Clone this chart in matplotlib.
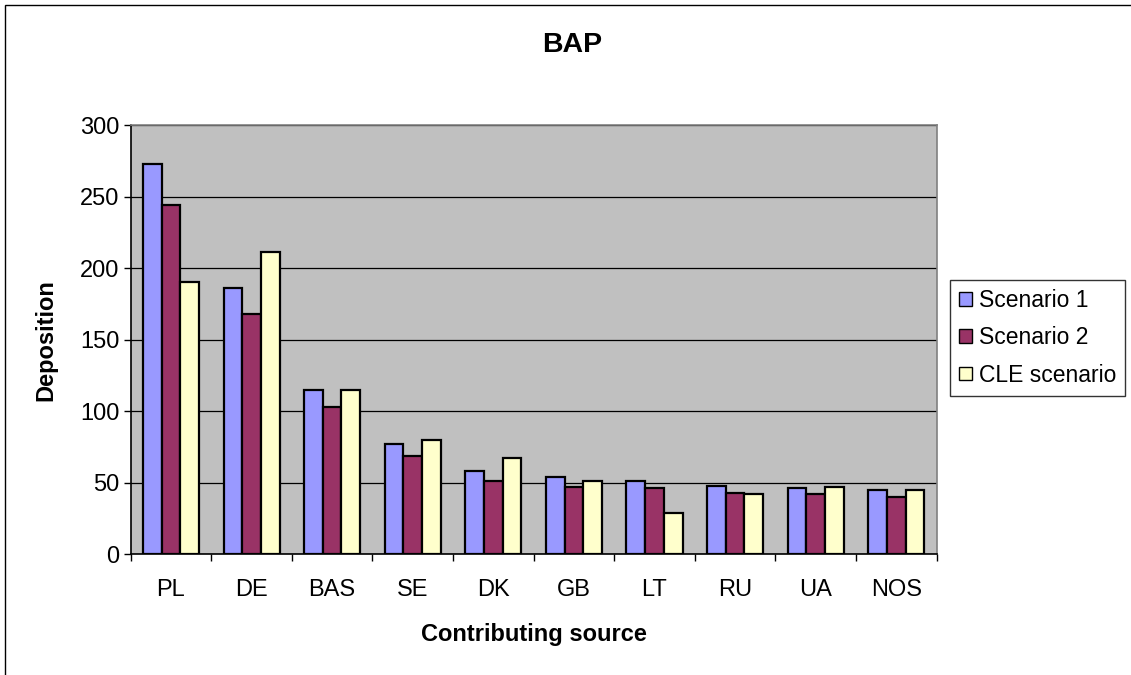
import matplotlib
matplotlib.use("Agg")
import matplotlib.pyplot as plt
import numpy as np
from matplotlib.patches import Patch, Rectangle
from matplotlib.ticker import FixedLocator, NullFormatter

plt.rcParams['font.family'] = ['Liberation Sans', 'DejaVu Sans']

categories = ["PL", "DE", "BAS", "SE", "DK", "GB", "LT", "RU", "UA", "NOS"]
scenario_1 = [273, 186, 115, 77, 58, 54, 51, 48, 46, 45]
scenario_2 = [244, 168, 103, 69, 51, 47, 46, 43, 42, 40]
cle_scenario = [190, 211, 115, 80, 67, 51, 29, 42, 47, 45]

series_names = ["Scenario 1", "Scenario 2", "CLE scenario"]
series_colors = ["#9999FF", "#993366", "#FFFFCC"]

W, H = 1131, 675
fig = plt.figure(figsize=(W / 100, H / 100), dpi=100)
fig.patch.set_facecolor("white")

# outer chart frame
fig.add_artist(Rectangle((5 / W, -0.05), 1.2, (H - 5) / H + 0.05, transform=fig.transFigure,
                         fill=False, edgecolor="black", linewidth=1.0))

ax = fig.add_axes([130.7 / W, (H - 554.3) / H, (936.5 - 130.7) / W, (554.3 - 125) / H])
ax.set_facecolor("#C0C0C0")

x = np.arange(len(categories))
bw = 0.232
for i, (vals, col, name) in enumerate(zip([scenario_1, scenario_2, cle_scenario], series_colors, series_names)):
    ax.bar(x + (i - 1) * bw, vals, width=bw, color=col, edgecolor="black", linewidth=1.6,
           label=name, zorder=3)

ax.set_xlim(-0.5, len(categories) - 0.5)
ax.set_ylim(0, 300)
ax.set_yticks(np.arange(0, 301, 50))
ax.yaxis.grid(True, color="black", linewidth=0.9, zorder=1)
ax.set_axisbelow(True)

ax.set_xticks(x)
ax.set_xticklabels(categories)
ax.xaxis.set_minor_locator(FixedLocator(np.arange(-0.5, len(categories), 1.0)))
ax.xaxis.set_minor_formatter(NullFormatter())
ax.tick_params(axis="x", which="major", length=0, pad=18, labelsize=17)
ax.tick_params(axis="x", which="minor", length=5, width=1, direction="out")
ax.tick_params(axis="y", length=5, width=1, direction="out", pad=3, labelsize=17)

for s in ["top", "right"]:
    ax.spines[s].set_color("#808080")
    ax.spines[s].set_linewidth(1.2)
for s in ["left", "bottom"]:
    ax.spines[s].set_color("black")
    ax.spines[s].set_linewidth(1.2)

ax.set_ylabel("Deposition", fontsize=17, fontweight="bold")
ax.yaxis.set_label_coords((46 - 130.7) / (936.5 - 130.7), 0.5)
ax.set_xlabel("Contributing source", fontsize=17, fontweight="bold")
ax.xaxis.set_label_coords(0.5, -(635 - 554.3) / (554.3 - 125))
ax.xaxis.label.set_va("center")
ax.yaxis.label.set_va("center")
fig.text(572 / W, (H - 45) / H, "BAP", fontsize=20.5, fontweight="bold", ha="center", va="center")

handles = [Patch(facecolor=c, edgecolor="black", linewidth=1.0) for c in series_colors]
leg = fig.legend(handles, series_names, loc="upper left",
                 bbox_to_anchor=(950 / W, (H - 280) / H), fontsize=16.5,
                 frameon=True, fancybox=False, edgecolor="black",
                 handlelength=0.55, handleheight=0.55, handletextpad=0.3,
                 labelspacing=0.62, borderpad=0.4, borderaxespad=0)
leg.get_frame().set_linewidth(1.0)

fig.savefig("out.png", dpi=100)
